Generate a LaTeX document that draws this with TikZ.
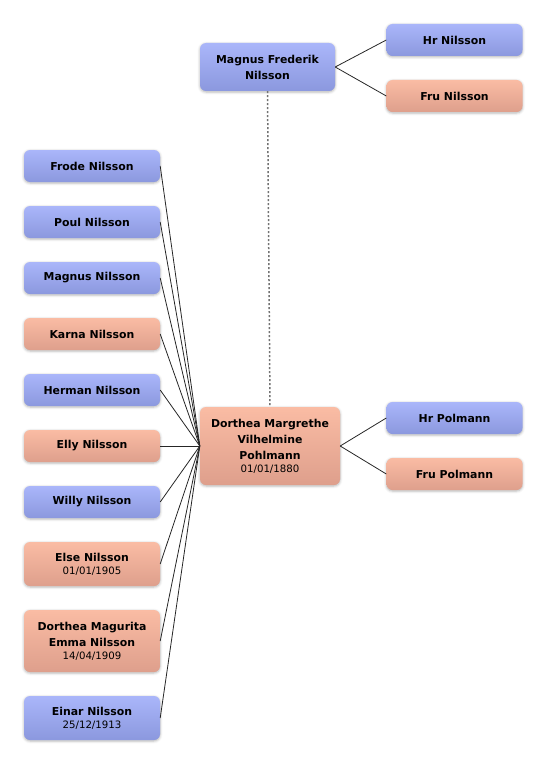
\documentclass[tikz,border=0pt]{standalone}
\usepackage{fontspec}
\setmainfont{DejaVu Sans}
\usetikzlibrary{shadows.blur}
\definecolor{bluetop}{HTML}{AAB6FA}
\definecolor{bluebot}{HTML}{8B98DE}
\definecolor{saltop}{HTML}{FABCA4}
\definecolor{salbot}{HTML}{DE9F8C}
\tikzset{
  person/.style={rounded corners=6pt, minimum width=136pt, inner sep=0pt, align=center,
    font=\fontsize{10.9}{16}\selectfont\bfseries,
    blur shadow={shadow xshift=0pt, shadow yshift=-1pt, shadow blur radius=2.5pt, shadow opacity=30}},
  male/.style={person, top color=bluetop, bottom color=bluebot},
  female/.style={person, top color=saltop, bottom color=salbot},
  link/.style={draw=black!85, line width=0.8pt},
  parentlink/.style={draw=black!55, line width=1.5pt, dash pattern=on 2pt off 2pt}
}
\newcommand{\dt}[1]{{\mdseries\fontsize{10.2}{12}\selectfont #1}}
\begin{document}
\begin{tikzpicture}[x=1pt,y=-1pt]
\useasboundingbox (0,0) rectangle (546,765);
% top family
\node[male, minimum width=135pt, minimum height=48pt] (mag) at (267.5,67) {Magnus Frederik\\Nilsson};
\node[male, minimum height=32pt] (hrn) at (454.5,40) {Hr Nilsson};
\node[female, minimum height=32pt] (frn) at (454.5,96) {Fru Nilsson};
% central
\node[female, minimum width=140pt, minimum height=78pt] (dor) at (270,446) {Dorthea Margrethe\\Vilhelmine\\Pohlmann\\[-3pt]\dt{01/01/1880}};
\node[male, minimum height=32pt] (hrp) at (454.5,418) {Hr Polmann};
\node[female, minimum height=32pt] (frp) at (454.5,474) {Fru Polmann};
% children
\node[male, minimum height=32pt] (c1) at (92,166) {Frode Nilsson};
\node[male, minimum height=32pt] (c2) at (92,222) {Poul Nilsson};
\node[male, minimum height=32pt] (c3) at (92,278) {Magnus Nilsson};
\node[female, minimum height=32pt] (c4) at (92,334) {Karna Nilsson};
\node[male, minimum height=32pt] (c5) at (92,390) {Herman Nilsson};
\node[female, minimum height=32pt] (c6) at (92,446) {Elly Nilsson};
\node[male, minimum height=32pt] (c7) at (92,502) {Willy Nilsson};
\node[female, minimum height=44pt] (c8) at (92,564) {Else Nilsson\\[-3pt]\dt{01/01/1905}};
\node[female, minimum height=62pt] (c9) at (92,641) {Dorthea Magurita\\Emma Nilsson\\[-3pt]\dt{14/04/1909}};
\node[male, minimum height=44pt] (c10) at (92,718) {Einar Nilsson\\[-3pt]\dt{25/12/1913}};
% connectors
\draw[parentlink] (mag.south) -- (dor.north);
\draw[link] (mag.east) -- (hrn.west);
\draw[link] (mag.east) -- (frn.west);
\draw[link] (dor.east) -- (hrp.west);
\draw[link] (dor.east) -- (frp.west);
\foreach \c in {c1,c2,c3,c4,c5,c6,c7,c8,c9,c10}
  \draw[link] (\c.east) -- (dor.west);
\end{tikzpicture}
\end{document}
